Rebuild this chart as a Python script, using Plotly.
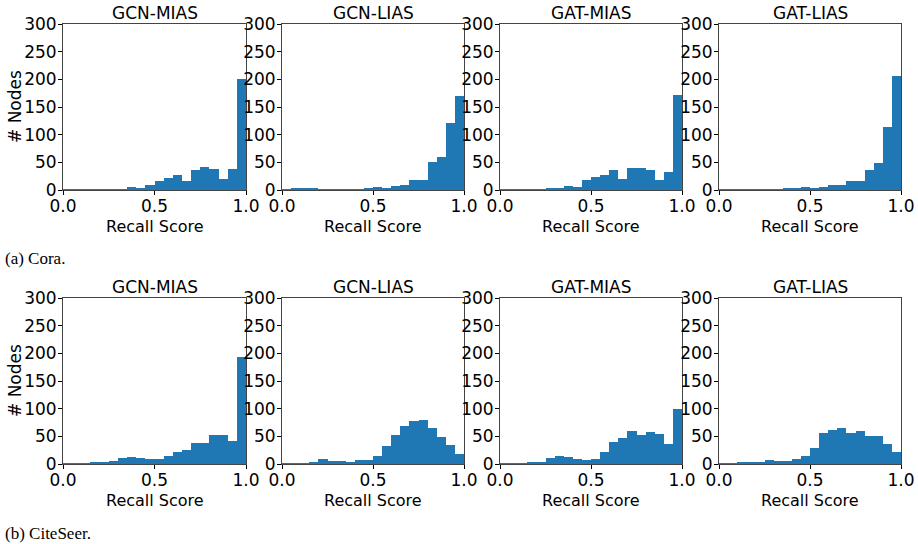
import numpy as np
import plotly.graph_objects as go

# ---- data ----
bin_edges = np.linspace(0.0, 1.0, 21)
titles = ["GCN-MIAS", "GCN-LIAS", "GAT-MIAS", "GAT-LIAS"]
captions = ["(a) Cora.", "(b) CiteSeer."]
x_label = "Recall Score"
y_label = "# Nodes"

cora_gcn_mias = [1, 1, 1, 1, 1, 1, 1, 5, 4, 9, 16, 22, 28, 16, 36, 42, 38, 20, 38, 201]
cora_gcn_lias = [1, 3, 3, 3, 1, 1, 1, 1, 1, 2, 5, 3, 7, 9, 18, 18, 51, 60, 121, 170]
cora_gat_mias = [1, 1, 1, 1, 1, 3, 3, 7, 5, 18, 23, 27, 36, 20, 40, 40, 36, 18, 33, 172]
cora_gat_lias = [1, 1, 1, 1, 1, 1, 1, 3, 3, 5, 3, 5, 9, 9, 16, 16, 36, 49, 114, 206]

cite_gcn_mias = [1, 1, 1, 2, 2, 5, 10, 12, 10, 9, 9, 14, 21, 25, 38, 38, 52, 52, 42, 194]
cite_gcn_lias = [1, 1, 1, 3, 9, 5, 5, 3, 7, 7, 14, 33, 52, 69, 78, 80, 65, 49, 34, 18]
cite_gat_mias = [1, 1, 1, 2, 4, 11, 14, 13, 9, 7, 9, 22, 40, 47, 60, 52, 58, 54, 36, 100]
cite_gat_lias = [1, 1, 2, 2, 4, 7, 5, 5, 9, 14, 29, 56, 62, 65, 56, 60, 51, 51, 36, 22]

rows_data = [
    [cora_gcn_mias, cora_gcn_lias, cora_gat_mias, cora_gat_lias],
    [cite_gcn_mias, cite_gcn_lias, cite_gat_mias, cite_gat_lias],
]

x_ticks = [0.0, 0.5, 1.0]
y_ticks = [0, 50, 100, 150, 200, 250, 300]

# ---- layout geometry (pixels) ----
W, H = 918, 544
col_px = [(63, 246), (282, 464), (500, 682), (719, 901)]
row_px = [(24, 190), (298, 464)]
caption_y_px = [258, 533]
xlabel_offset_px = 36   # below plot bottom
ylabel_x_px = 15

centers = (bin_edges[:-1] + bin_edges[1:]) / 2
widths = np.diff(bin_edges)

FONT = "DejaVu Sans"
FS = 16
BLUE = "#1f77b4"

fig = go.Figure()
layout = dict(
    width=W, height=H,
    margin=dict(l=0, r=0, t=0, b=0, pad=0, autoexpand=False),
    plot_bgcolor="white", paper_bgcolor="white",
    showlegend=False, bargap=0,
    font=dict(family=FONT, size=FS, color="black"),
    annotations=[],
)

def txt(text, x, y, xanchor="center", yanchor="middle", angle=0, family=FONT, size=FS):
    return dict(text=text, xref="paper", yref="paper", x=x, y=y,
                xanchor=xanchor, yanchor=yanchor, textangle=angle,
                showarrow=False, font=dict(family=family, size=size, color="black"))

idx = 0
for r in range(2):
    for c in range(4):
        idx += 1
        xa = "x" if idx == 1 else f"x{idx}"
        ya = "y" if idx == 1 else f"y{idx}"
        fig.add_trace(go.Bar(
            x=centers, y=rows_data[r][c], width=widths,
            marker=dict(color=BLUE, line=dict(width=0)),
            xaxis=xa, yaxis=ya, hoverinfo="x+y",
        ))
        x0, x1 = col_px[c]
        y0, y1 = row_px[r]
        xkey = "xaxis" if idx == 1 else f"xaxis{idx}"
        ykey = "yaxis" if idx == 1 else f"yaxis{idx}"
        layout[xkey] = dict(
            domain=[x0 / W, x1 / W], anchor=ya, range=[0, 1],
            tickvals=x_ticks, ticktext=[f"{v:.1f}" for v in x_ticks],
            ticks="outside", ticklen=4, tickcolor="black",
            ticklabelstandoff=-3,
            showline=True, linecolor="#444", linewidth=1, mirror=True,
            showgrid=False, zeroline=False, automargin=False,
            tickfont=dict(family=FONT, size=17, color="black"),
        )
        layout[ykey] = dict(
            domain=[1 - y1 / H, 1 - y0 / H], anchor=xa, range=[0, 300],
            tickvals=y_ticks, ticks="outside", ticklen=4, tickcolor="black",
            ticklabelstandoff=-2,
            showline=True, linecolor="#444", linewidth=1, mirror=True,
            showgrid=False, zeroline=False, automargin=False,
            tickfont=dict(family=FONT, size=17, color="black"),
        )
        layout["annotations"].append(txt(
            titles[c], (x0 + x1) / 2 / W, 1 - (y0 - 11) / H, size=17))
        layout["annotations"].append(txt(
            x_label, (x0 + x1) / 2 / W, 1 - (y1 + xlabel_offset_px) / H))
        if c == 0:
            layout["annotations"].append(txt(
                y_label, ylabel_x_px / W, 1 - (y0 + y1) / 2 / H, angle=-90, size=17))

for r in range(2):
    layout["annotations"].append(txt(
        captions[r], 0.003, 1 - caption_y_px[r] / H, xanchor="left",
        family="Liberation Serif", size=17))

fig.update_layout(**layout)
fig.write_html("out.html")
